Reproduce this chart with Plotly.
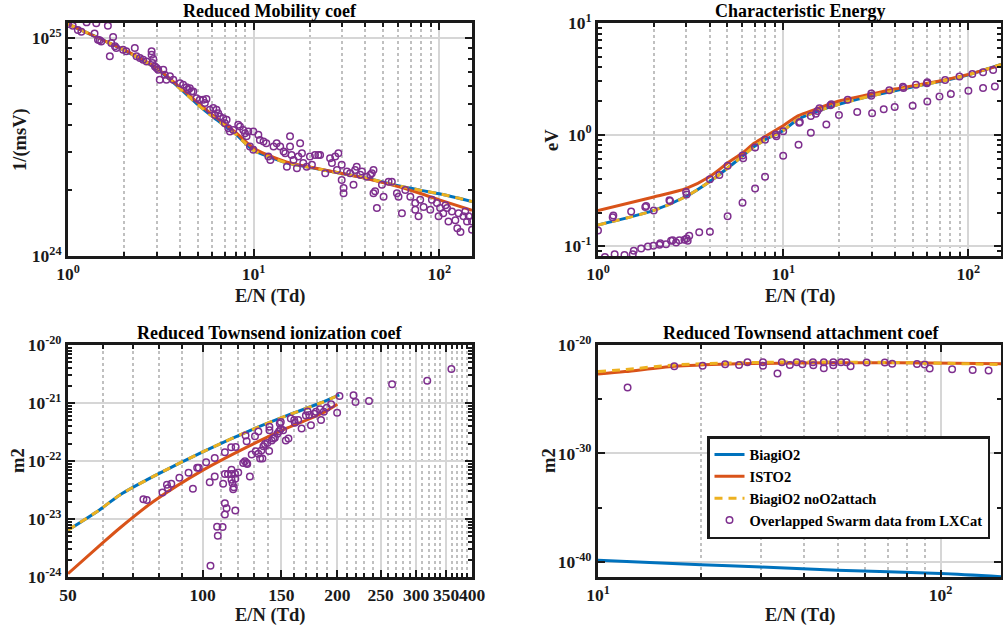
import plotly.graph_objects as go

# ---------------- data ----------------
# Reduced mobility (top-left), values in units of 1e24 1/(m s V)
mob_x = [1, 1.5, 2, 3, 4, 5, 6, 7, 8, 10, 12, 15, 20, 30, 40, 60, 80, 100, 150]
mob_isto2 = [11.6, 9.9, 8.84, 7.28, 5.95, 5.06, 4.44, 4.04, 3.69, 3.12, 2.90, 2.70, 2.56, 2.39, 2.27, 2.08, 1.93, 1.81, 1.62]
mob_biagi = [11.6, 9.9, 8.80, 7.22, 5.88, 4.95, 4.36, 3.95, 3.62, 3.05, 2.86, 2.68, 2.55, 2.39, 2.28, 2.10, 2.00, 1.93, 1.78]
mob_biagi_noatt = [11.6, 9.9, 8.80, 7.22, 5.88, 4.95, 4.36, 3.95, 3.62, 3.05, 2.86, 2.68, 2.55, 2.39, 2.28, 2.10, 2.00, 1.93, 1.78]
mob_sw_x = [1.00, 1.06, 1.13, 1.18, 1.26, 1.42, 1.39, 1.45, 1.48, 1.51, 1.64, 1.68, 1.75, 1.71, 1.79, 1.82,
            1.98, 2.06, 2.29, 2.34, 2.44, 2.54, 2.65, 2.82, 2.82, 2.88, 2.85, 2.94, 3.00, 3.06, 3.12, 3.26,
            3.32, 3.39, 3.54, 3.69, 4.01, 4.17, 4.35, 4.44, 4.53, 4.63, 4.73, 4.92, 5.13, 5.35, 5.57, 5.46,
            5.81, 6.06, 6.19, 6.31, 6.44, 6.58, 6.86, 7.00, 7.15, 7.30, 7.45, 7.77, 8.26, 8.44, 8.79, 8.98,
            9.16, 9.36, 9.55, 9.96, 9.96, 10.6, 10.8, 11.3, 11.7, 12.0, 12.3, 12.8, 13.3, 13.9, 14.5, 14.8,
            15.1, 15.7, 15.7, 16.0, 16.4, 17.1, 17.4, 17.8, 18.2, 18.5, 19.3, 20.1, 20.6, 21.4, 22.3, 22.8,
            24.3, 25.8, 26.4, 27.5, 28.6, 28.1, 29.8, 29.8, 30.5, 30.5, 31.8, 33.1, 34.5, 35.2, 35.9, 37.5,
            38.3, 40.7, 42.5, 44.2, 43.3, 44.2, 45.1, 46.1, 49.1, 50.1, 53.3, 55.5, 59.1, 60.3, 62.9, 65.6,
            69.8, 74.2, 74.2, 77.3, 78.9, 82.3, 89.4, 91.2, 97.1, 99.1, 101, 105, 108, 110, 112, 117,
            122, 125, 127, 130, 135, 138, 141, 144, 150, 150]
mob_sw_y = [11.6, 11.4, 10.9, 10.7, 11.8, 11.7, 10.5, 9.82, 9.76, 9.65, 11.4, 8.24, 10.1, 9.48, 9.16, 9.00,
            8.84, 8.69, 9.00, 8.24, 8.09, 7.95, 7.81, 8.69, 8.38, 8.01, 7.68, 7.41, 7.28, 7.16, 6.44, 7.16,
            6.79, 6.44, 6.67, 6.44, 6.21, 6.10, 5.95, 5.79, 5.89, 5.69, 5.69, 5.30, 5.21, 5.21, 5.25, 5.03,
            4.69, 4.77, 4.44, 4.69, 4.52, 4.37, 4.29, 4.07, 4.22, 3.86, 3.73, 3.79, 4.00, 3.93, 3.79, 3.66,
            3.54, 3.73, 3.18, 3.07, 3.73, 3.60, 3.41, 3.35, 3.29, 2.86, 2.76, 3.18, 3.29, 3.18, 3.02, 2.96,
            2.57, 3.54, 3.18, 2.91, 2.76, 2.53, 2.86, 3.29, 2.96, 2.67, 2.57, 2.86, 2.62, 2.91, 2.91, 2.91,
            2.40, 2.81, 2.67, 2.86, 2.96, 2.48, 2.62, 2.23, 2.05, 1.94, 2.44, 2.40, 2.12, 2.48, 2.57, 2.36,
            2.44, 2.31, 2.36, 2.48, 2.40, 1.94, 1.98, 1.66, 2.12, 1.87, 2.19, 2.19, 1.94, 1.87, 1.57, 2.01,
            1.87, 1.75, 1.63, 1.52, 1.81, 1.68, 1.63, 1.81, 1.75, 1.52, 1.66, 1.57, 1.71, 1.66, 1.44, 1.60,
            1.46, 1.34, 1.57, 1.29, 1.52, 1.60, 1.44, 1.52, 1.44, 1.32]
MOB_UNIT = 1e24

# Characteristic energy (top-right), eV
ce_x = [1, 2, 3, 4, 5, 6, 7, 8, 10, 12, 15, 20, 30, 40, 60, 80, 100, 150]
ce_isto2 = [0.209, 0.276, 0.329, 0.419, 0.554, 0.682, 0.84, 0.966, 1.20, 1.47, 1.69, 2.0, 2.31, 2.56, 2.88, 3.17, 3.45, 4.2]
ce_biagi = [0.155, 0.209, 0.280, 0.378, 0.499, 0.637, 0.784, 0.90, 1.09, 1.37, 1.60, 1.87, 2.23, 2.47, 2.84, 3.13, 3.43, 4.25]
ce_biagi_noatt = [0.155, 0.209, 0.280, 0.378, 0.499, 0.637, 0.784, 0.90, 1.09, 1.37, 1.60, 1.87, 2.23, 2.47, 2.84, 3.13, 3.43, 4.25]
ce_sw_x = [1.00, 1.20, 1.21, 1.51, 1.80, 1.82, 2.00, 2.43, 2.45, 2.99, 3.01, 4.02, 4.52, 5.01, 6.03, 6.08,
           7.05, 7.98, 9.12, 9.19, 10.0, 12.2, 12.3, 14.1, 15.0, 15.3, 15.7, 18.0, 18.2, 22.3, 29.9, 29.9,
           37.4, 44.3, 44.6, 52.1, 59.7, 60.0, 74.9, 89.5, 105, 120, 136,
           1.09, 1.23, 1.39, 1.54, 1.56, 1.71, 1.86, 1.99, 2.15, 2.17, 2.33, 2.48, 2.53, 2.64, 2.75, 2.93,
           3.01, 3.05, 3.11, 3.52, 4.02, 5.01, 6.03, 7.05, 7.98, 10.0, 12.1, 14.1, 17.1, 20.0, 25.1, 30.2,
           34.9, 40.0, 50.0, 60.0, 69.8, 80.4, 100, 120, 139]
ce_sw_y = [0.138, 0.182, 0.188, 0.205, 0.224, 0.229, 0.209, 0.258, 0.254, 0.306, 0.290, 0.397, 0.434, 0.527, 0.650, 0.615,
           0.768, 0.901, 1.00, 0.966, 1.07, 1.28, 1.30, 1.47, 1.54, 1.63, 1.72, 1.83, 1.87, 2.05, 2.34, 2.23,
           2.50, 2.69, 2.61, 2.80, 2.88, 2.94, 3.09, 3.31, 3.50, 3.62, 3.80,
           0.080, 0.0846, 0.0834, 0.0846, 0.0908, 0.0953, 0.0993, 0.1007, 0.103, 0.106, 0.104, 0.112, 0.113, 0.108, 0.113, 0.114,
           0.117, 0.112, 0.124, 0.133, 0.135, 0.185, 0.245, 0.329, 0.419, 0.645, 0.812, 1.04, 1.23, 1.50, 1.59, 1.55,
           1.69, 1.77, 1.81, 1.98, 2.19, 2.31, 2.47, 2.62, 2.70]

# Reduced Townsend ionization coefficient (bottom-left), m2
ion_x = [50, 58.9, 65.3, 77.6, 100.6, 130.2, 154.7, 184, 200]
ion_isto2 = [1.14e-24, 3.5e-24, 7.0e-24, 2.0e-23, 7.1e-23, 2.0e-22, 3.72e-22, 6.53e-22, 9.55e-22]
ion_biagi_x = [50, 58.9, 65.3, 77.6, 100.6, 130.2, 154.7, 184, 202]
ion_biagi = [6.45e-24, 1.45e-23, 2.6e-23, 5.42e-23, 1.47e-22, 3.59e-22, 6.11e-22, 1.01e-21, 1.38e-21]
ion_biagi_noatt = [6.45e-24, 1.45e-23, 2.6e-23, 5.42e-23, 1.47e-22, 3.59e-22, 6.11e-22, 1.01e-21, 1.38e-21]
ion_sw_x = [73.7, 75.0, 81.3, 83.6, 85.1, 83.2, 88.7, 93.0, 95.1, 97.2, 98.0, 101.8, 103.7, 106.4, 106.4, 112.1,
            111.1, 112.1, 113.9, 116.0, 116.0, 118.1, 120.1, 116.0, 116.6, 117.4, 117.0, 118.3, 115.8, 118.5, 112.1, 113.1,
            112.1, 118.3, 107.7, 110.8, 108.1, 104.1, 123.2, 124.3, 125.4, 125.8, 127.5, 124.7, 125.4, 128.7, 131.4, 133.2,
            134.4, 136.0, 130.9, 133.2, 135.3, 136.7, 137.8, 139.5, 141.0, 141.0, 140.8, 142.7, 143.9, 145.0, 146.9, 148.2,
            149.5, 151.3, 148.7, 149.5, 153.4, 155.5, 157.4, 160.2, 160.7, 163.5, 166.4, 170.1, 171.6, 173.1, 177.6, 179.2,
            182.9, 183.9, 186.5, 189.4, 193.7, 174.6, 202.2, 199.8, 217.4, 219.6, 235.4, 265.1, 317.7, 359.7]
ion_sw_y = [2.19e-23, 2.13e-23, 2.86e-23, 3.40e-23, 4.05e-23, 3.89e-23, 5.14e-23, 6.28e-23, 3.31e-23, 7.66e-23, 7.66e-23, 9.48e-23, 4.32e-23, 5.42e-23, 1.13e-22, 1.41e-22,
            4.05e-23, 5.95e-23, 5.95e-23, 7.08e-23, 5.95e-23, 6.03e-23, 6.36e-23, 4.74e-23, 4.15e-23, 3.54e-23, 3.27e-23, 4.94e-23, 1.73e-22, 1.75e-22, 1.87e-23, 1.53e-23,
            1.20e-23, 1.40e-23, 7.36e-24, 7.26e-24, 5.14e-24, 1.57e-24, 9.23e-23, 9.87e-23, 9.23e-23, 8.87e-23, 5.42e-23, 2.75e-22, 2.19e-22, 1.29e-22, 1.47e-22, 1.34e-22,
            1.10e-22, 1.10e-22, 2.68e-22, 3.23e-22, 1.51e-22, 1.80e-22, 1.97e-22, 2.05e-22, 3.89e-22, 3.40e-22, 1.49e-22, 2.25e-22, 2.44e-22, 2.51e-22, 2.94e-22, 3.27e-22,
            3.59e-22, 3.40e-22, 4.44e-22, 4.69e-22, 2.25e-22, 2.44e-22, 5.42e-22, 5.07e-22, 4.56e-22, 5.07e-22, 3.64e-22, 6.11e-22, 7.16e-22, 6.19e-22, 6.53e-22, 7.08e-22,
            7.77e-22, 5.07e-22, 7.08e-22, 8.30e-22, 9.48e-22, 4.15e-22, 1.32e-21, 6.79e-22, 1.36e-21, 1.04e-21, 1.08e-21, 2.11e-21, 2.41e-21, 3.84e-21]

# Reduced Townsend attachment coefficient (bottom-right), m2
att_x = [10, 12, 16.7, 24.4, 38.2, 59.6, 93.2, 150]
att_isto2 = [2.14e-23, 3.55e-23, 1.10e-22, 1.78e-22, 2.19e-22, 2.34e-22, 2.19e-22, 1.91e-22]
att_biagi_noatt = [3.55e-23, 5.37e-23, 1.45e-22, 2.19e-22, 2.75e-22, 2.57e-22, 2.19e-22, 1.55e-22]
att_biagi_x = [10, 20, 30, 50, 100, 150]
att_biagi = [1.4e-40, 5.5e-41, 3.3e-41, 1.7e-41, 8.5e-42, 4.3e-42]
att_sw_x = [12.2, 16.7, 20.2, 23.5, 25.8, 27.3, 30.3, 30.3, 33.4, 34.4, 36.3, 38.0, 39.5, 42.4, 42.5, 45.6,
            45.6, 48.6, 48.6, 51.2, 53.1, 54.6, 60.8, 68.7, 72.2, 85.3, 89.8, 92.9, 108, 124, 138]
att_sw_y = [1.19e-24, 1.09e-22, 1.25e-22, 1.66e-22, 1.44e-22, 2.54e-22, 2.54e-22, 1.25e-22, 2.30e-23, 2.54e-22, 1.44e-22, 2.54e-22, 1.66e-22, 2.54e-22, 1.35e-22, 2.54e-22,
            7.13e-23, 2.54e-22, 1.35e-22, 2.54e-22, 2.54e-22, 1.09e-22, 2.37e-22, 2.37e-22, 1.91e-22, 1.79e-22, 1.55e-22, 6.64e-23, 5.77e-23, 5.00e-23, 4.35e-23]

series_names = ["BiagiO2", "ISTO2", "BiagiO2 noO2attach", "Overlapped Swarm data from LXCat"]

# ---------------- style ----------------
BLUE = "#0072BD"
RED = "#D95319"
YEL = "#EDB120"
PURP = "#7E2F8E"
FONT = "Liberation Serif, Times New Roman, serif"
AXC = "#1a1a1a"
W, H = 1003, 635

fig = go.Figure()


def add_set(k, xb, yb, xr, yr, xy, yy, xs, ys, legend):
    xa = "x" if k == 1 else f"x{k}"
    ya = "y" if k == 1 else f"y{k}"
    fig.add_trace(go.Scatter(x=xb, y=yb, mode="lines", line=dict(color=BLUE, width=3, shape="spline", smoothing=0.8),
                             name="<b>" + series_names[0] + "</b>", showlegend=legend, xaxis=xa, yaxis=ya))
    fig.add_trace(go.Scatter(x=xr, y=yr, mode="lines", line=dict(color=RED, width=3, shape="spline", smoothing=0.8),
                             name="<b>" + series_names[1] + "</b>", showlegend=legend, xaxis=xa, yaxis=ya))
    fig.add_trace(go.Scatter(x=xy, y=yy, mode="lines",
                             line=dict(color=YEL, width=3, dash="8px,6px", shape="spline", smoothing=0.8),
                             name="<b>" + series_names[2] + "</b>", showlegend=legend, xaxis=xa, yaxis=ya))
    fig.add_trace(go.Scatter(x=xs, y=ys, mode="markers",
                             marker=dict(symbol="circle-open", size=6.5, color=PURP, line=dict(width=1.5, color=PURP)),
                             name="<b>" + series_names[3] + "</b>", showlegend=legend, xaxis=xa, yaxis=ya))


add_set(1, mob_x, [v * MOB_UNIT for v in mob_biagi], mob_x, [v * MOB_UNIT for v in mob_isto2],
        mob_x, [v * MOB_UNIT for v in mob_biagi_noatt], mob_sw_x, [v * MOB_UNIT for v in mob_sw_y], False)
add_set(2, ce_x, ce_biagi, ce_x, ce_isto2, ce_x, ce_biagi_noatt, ce_sw_x, ce_sw_y, False)
add_set(3, ion_biagi_x, ion_biagi, ion_x, ion_isto2, ion_biagi_x, ion_biagi_noatt, ion_sw_x, ion_sw_y, False)
add_set(4, att_biagi_x, att_biagi, att_x, att_isto2, att_x, att_biagi_noatt, att_sw_x, att_sw_y, True)


def sup(e):
    return f"<b>10<sup>{e}</sup></b>"


def axis(domain, rng, tv, tt, minor_vals, minor_grid, anchor):
    return dict(
        type="log", domain=domain, range=rng, anchor=anchor, automargin=False,
        tickmode="array", tickvals=tv, ticktext=tt, tickangle=0,
        ticks="inside", ticklen=7, tickwidth=2, tickcolor=AXC,
        showline=True, linecolor=AXC, linewidth=3, mirror="allticks",
        showgrid=True, gridcolor="#d6d6d6", gridwidth=2, zeroline=False,
        tickfont=dict(family=FONT, size=17.5, color=AXC),
        minor=dict(tickmode="array", tickvals=minor_vals, ticks="inside", ticklen=4,
                   tickwidth=1.5, tickcolor=AXC, showgrid=minor_grid,
                   gridcolor="#c0c0c0", griddash="dot", gridwidth=2),
    )


def dec_minor(lo, hi):
    return [float(m) * 10.0 ** e for e in range(lo, hi) for m in range(2, 10)]


xL = [68 / W, 472 / W]
xR = [598 / W, 1001 / W]
yT = [1 - 256 / H, 1 - 23 / H]
yB = [1 - 577 / H, 1 - 345 / H]

fig.update_layout(
    xaxis=axis(xL, [0, 2.1761], [1, 10, 100], [sup(0), sup(1), sup(2)], dec_minor(0, 2), True, "y"),
    yaxis=axis(yT, [24, 25.069], [1e24, 1e25], [sup(24), sup(25)], dec_minor(24, 25), False, "x"),
    xaxis2=axis(xR, [0, 2.1761], [1, 10, 100], [sup(0), sup(1), sup(2)], dec_minor(0, 2), True, "y2"),
    yaxis2=axis(yT, [-1.088, 1], [0.1, 1, 10], [sup(-1), sup(0), sup(1)], [0.09] + dec_minor(-1, 1), False, "x2"),
    xaxis3=axis(xL, [1.69897, 2.60206], [50, 100, 150, 200, 250, 300, 350, 400],
                ["<b>%d</b>" % v for v in [50, 100, 150, 200, 250, 300, 350, 400]],
                [float(v) for v in range(60, 400, 10) if v % 50 != 0], True, "y3"),
    yaxis3=axis(yB, [-24, -20], [1e-24, 1e-23, 1e-22, 1e-21, 1e-20],
                [sup(-24), sup(-23), sup(-22), sup(-21), sup(-20)], dec_minor(-24, -20), False, "x3"),
    xaxis4=axis(xR, [1, 2.1761], [10, 100], [sup(1), sup(2)], dec_minor(1, 2), True, "y4"),
    yaxis4=axis(yB, [-41.4, -20], [1e-40, 1e-30, 1e-20], [sup(-40), sup(-30), sup(-20)],
                [1e-35, 1e-25], False, "x4"),
)

annots = []
titles = [("Reduced Mobility coef", 270, 11), ("Characteristic Energy", 800, 11),
          ("Reduced Townsend ionization coef", 270, 333), ("Reduced Townsend attachment coef", 801, 333)]
for t, x, y in titles:
    annots.append(dict(text="<b>" + t + "</b>", x=x / W, y=1 - y / H, xref="paper", yref="paper",
                       showarrow=False, xanchor="center", yanchor="middle",
                       font=dict(family=FONT, size=18, color="black")))
xlabels = [(270, 297), (800, 297), (270, 615), (800, 615)]
for x, y in xlabels:
    annots.append(dict(text="<b>E/N (Td)</b>", x=x / W, y=1 - y / H, xref="paper", yref="paper",
                       showarrow=False, xanchor="center", yanchor="middle",
                       font=dict(family=FONT, size=18.5, color=AXC)))
ylabels = [("1/(msV)", 20, 140), ("eV", 552, 140), ("m2", 18, 461), ("m2", 549, 461)]
for t, x, y in ylabels:
    annots.append(dict(text="<b>" + t + "</b>", x=x / W, y=1 - y / H, xref="paper", yref="paper",
                       showarrow=False, xanchor="center", yanchor="middle", textangle=-90,
                       font=dict(family=FONT, size=18.5, color=AXC)))

fig.update_layout(
    width=W, height=H, margin=dict(l=0, r=0, t=0, b=0, autoexpand=False),
    paper_bgcolor="white", plot_bgcolor="white",
    annotations=annots,
    legend=dict(x=990 / W, y=1 - 436 / H, xanchor="right", yanchor="top",
                bgcolor="white", bordercolor=AXC, borderwidth=2.5,
                font=dict(family=FONT, size=14.5, color="black"),
                tracegroupgap=0, itemwidth=30),
)

fig.write_html("out.html", config={"displayModeBar": False},
               post_script="document.body.style.margin='0';document.body.style.overflow='hidden';")
